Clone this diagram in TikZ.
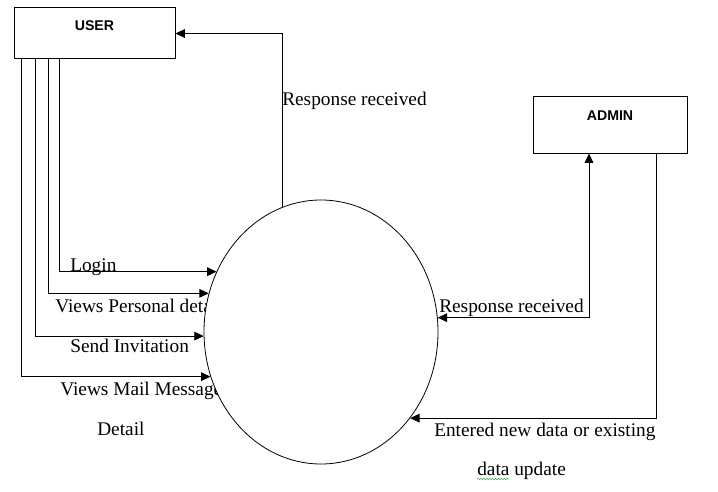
\documentclass[tikz,border=0pt]{standalone}
\usepackage{fontspec}
\setmainfont{Liberation Serif}
\newfontfamily\boxfont{Liberation Sans}
\usetikzlibrary{arrows.meta,positioning,shapes.geometric,decorations.pathmorphing}
\definecolor{LineBlack}{HTML}{000000}
\definecolor{SpellGreen}{HTML}{3FA34D}
\tikzset{
    entity/.style={draw=LineBlack, line width=0.75pt, rectangle, inner sep=0pt},
    entitytitle/.style={inner sep=0pt, font=\boxfont\fontsize{10.6}{12}\selectfont\bfseries},
    flowtext/.style={inner sep=0pt, anchor=base west, font=\fontsize{14.5}{17}\selectfont},
    flow/.style={draw=LineBlack, line width=0.6pt, -{Triangle[length=7pt,width=6.5pt]}},
    flowboth/.style={draw=LineBlack, line width=0.6pt, {Triangle[length=7pt,width=6.5pt]}-{Triangle[length=7pt,width=6.5pt]}}
}

\begin{document}
\begin{tikzpicture}[x=0.75pt, y=-0.75pt]
        \useasboundingbox (0,0) rectangle (718,492);

        % external entities
        \node[entity, minimum width=120.75pt, minimum height=38.25pt] (user) at (94.5,33.5) {};
        \node[entitytitle, anchor=north, below=9.5pt of user.north] (usertitle) {USER};
        \node[entity, minimum width=115.5pt, minimum height=42pt] (admin) at (610,125) {};
        \node[entitytitle, anchor=north, below=10.2pt of admin.north] (admintitle) {ADMIN};

        % flow labels
        \node[flowtext] (lbl-top) at (282,106) {Response received};
        \node[flowtext] (lbl-login) at (70,271) {Login};
        \node[flowtext] (lbl-personal) at (55,312) {Views Personal details};
        \node[flowtext] (lbl-invite) at (70,352) {Send Invitation};
        \node[flowtext] (lbl-mail) at (60,395) {Views Mail Message};
        \node[flowtext] (lbl-detail) at (97,435) {Detail};
        \node[flowtext] (lbl-resp) at (439,312) {Response received};
        \node[flowtext] (lbl-entered) at (434,436) {Entered new data or existing};
        \node[flowtext] (lbl-update) at (477,475) {data update};
        \draw[SpellGreen, line width=0.4pt, decorate, decoration={snake, amplitude=0.5pt, segment length=2.2pt}]
            ([yshift=-3pt]lbl-update.base west) -- ++(24pt,0);

        % process
        \node[draw=LineBlack, line width=0.6pt, fill=white, ellipse, inner sep=0pt,
              minimum width=175.5pt, minimum height=198pt] (proc) at (321,332) {};

        % user flows
        \draw[flow] ([xshift=34.5pt]user.south west) |- (proc.150.6);
        \draw[flow] ([xshift=26.25pt]user.south west) |- (proc.161.8);
        \draw[flow] ([xshift=16.5pt]user.south west) |- (proc.182.4);
        \draw[flow] ([xshift=6pt]user.south west) |- (proc.202.2);
        \draw[flow] (proc.107.4) |- (user.east);

        % admin flows
        \draw[flowboth] (proc.7.4) -| ([xshift=-15.75pt]admin.south);
        \draw[flow] ([xshift=34.5pt]admin.south) |- (proc.316);
\end{tikzpicture}
\end{document}
